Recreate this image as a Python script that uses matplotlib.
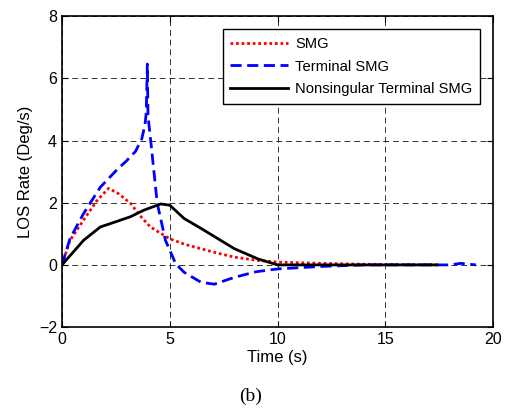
import matplotlib
matplotlib.use("Agg")
import matplotlib.pyplot as plt

# LOS rate curves
t_smg = [0, 0.37, 1.0, 1.6, 2.16, 2.6, 3.18, 3.6, 4.1, 5.0, 5.7, 6.45, 7.2, 8.0, 9.0, 10.0, 12.0, 14.0, 16.0, 17.4]
y_smg = [0, 0.79, 1.44, 2.05, 2.46, 2.3, 1.98, 1.6, 1.22, 0.84, 0.66, 0.52, 0.38, 0.25, 0.15, 0.09, 0.05, 0.02, 0.01, 0.0]

t_tsmg = [0, 0.37, 1.0, 1.78, 2.55, 3.0, 3.41, 3.7, 3.85, 3.91, 3.96, 3.99, 4.11, 4.42, 4.8, 5.28, 5.67, 6.45, 7.07, 8.0, 9.0, 10.0, 12.0, 14.0, 16.0, 18.0, 18.5, 19.2]
y_tsmg = [0, 0.84, 1.65, 2.5, 3.06, 3.35, 3.65, 4.05, 4.5, 4.9, 6.46, 4.8, 4.03, 1.98, 0.79, 0.03, -0.24, -0.56, -0.62, -0.4, -0.22, -0.13, -0.05, 0.0, 0.0, 0.0, 0.05, 0.0]

t_nt = [0, 1.0, 1.78, 2.55, 3.18, 3.8, 4.58, 5.0, 5.67, 6.53, 8.0, 9.1, 10.0, 12.0, 14.0, 17.4]
y_nt = [0, 0.79, 1.22, 1.4, 1.55, 1.76, 1.96, 1.92, 1.49, 1.14, 0.52, 0.19, 0.0, 0.0, 0.0, 0.0]

labels = ["SMG", "Terminal SMG", "Nonsingular Terminal SMG"]

plt.rcParams['font.family'] = ['Liberation Sans', 'DejaVu Sans']

fig = plt.figure(figsize=(5.06, 4.13), dpi=100)
ax = fig.add_axes([0.1225, 0.208, 0.852, 0.753])

ax.plot(t_smg, y_smg, color='red', linestyle=(0, (1, 1)), linewidth=2, label=labels[0])
ax.plot(t_tsmg, y_tsmg, color='blue', linestyle=(0, (4, 2)), linewidth=2, label=labels[1])
ax.plot(t_nt, y_nt, color='black', linestyle='-', linewidth=2, label=labels[2])

ax.set_xlim(0, 20)
ax.set_ylim(-2, 8)
ax.set_xticks([0, 5, 10, 15, 20])
ax.set_yticks([-2, 0, 2, 4, 6, 8])
ax.grid(True, color='black', linestyle=(0, (6, 4)), linewidth=0.7, alpha=0.8)
ax.tick_params(direction='in', top=True, right=True, labelsize=11.5, length=4)
for s in ax.spines.values():
    s.set_linewidth(1.2)

ax.set_xlabel("Time (s)", fontsize=12, labelpad=2)
ax.set_ylabel("LOS Rate (Deg/s)", fontsize=12)

leg = ax.legend(loc='upper right', fontsize=10.6, fancybox=False, framealpha=1,
                edgecolor='black', borderaxespad=0.9, handlelength=3.9,
                labelspacing=0.6, borderpad=0.5, handletextpad=0.5)
leg.get_frame().set_linewidth(1.0)

fig.text(0.495, 0.028, "(b)", fontsize=14, family='Liberation Serif', ha='center')

plt.savefig('out.png', dpi=100)
